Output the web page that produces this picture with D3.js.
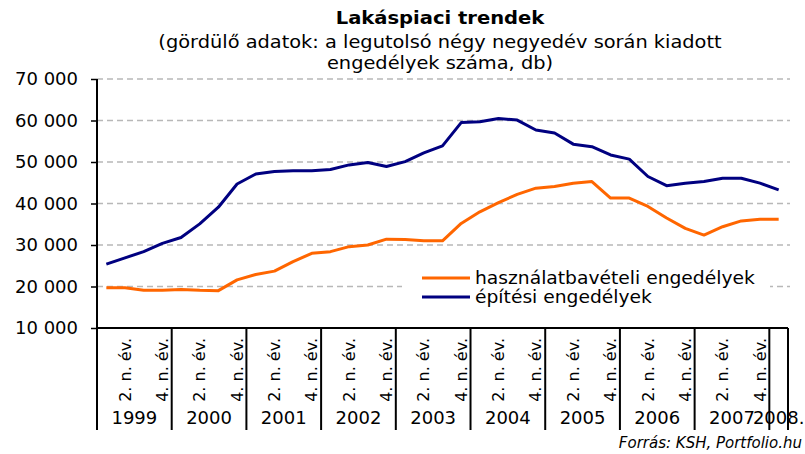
<!doctype html>
<html>
<head>
<meta charset="utf-8">
<title>Lakáspiaci trendek</title>
<script src="https://d3js.org/d3.v7.min.js"></script>
<style>
  body { margin: 0; background: #fff; }
  text { font-family: "DejaVu Sans", sans-serif; fill: #000; }
</style>
</head>
<body>
<script>
// data (quarterly, rolling four quarters)
var years = ["1999", "2000", "2001", "2002", "2003", "2004", "2005", "2006", "2007", "2008."];
var quartersPerYear = [4, 4, 4, 4, 4, 4, 4, 4, 4, 1];
var quarterLabels = ["", "2. n. év.", "", "4. n. év."];
var yTicks = [10000, 20000, 30000, 40000, 50000, 60000, 70000];

var hasznalatba = [19700, 19700, 19100, 19100, 19300, 19100, 19000, 21600,
  22900, 23700, 26000, 28000, 28400, 29600, 30000, 31400,
  31300, 31000, 31000, 35200, 38000, 40200, 42200, 43700,
  44100, 44900, 45300, 41300, 41300, 39300, 36500, 34000,
  32400, 34400, 35800, 36200, 36200];
var epitesi = [25400, 26900, 28400, 30400, 31800, 35100, 39100, 44700,
  47100, 47700, 47900, 47900, 48200, 49300, 49900, 48900,
  50100, 52200, 53900, 59500, 59700, 60500, 60100, 57700,
  57000, 54300, 53700, 51700, 50700, 46500, 44300, 44900,
  45300, 46100, 46100, 44900, 43300];

var seriesNames = ["használatbavételi engedélyek", "építési engedélyek"];
var seriesColors = ["#ff6600", "#000080"];

// categories built from years / quarters
var categories = [];
years.forEach(function(y, i) {
  for (var q = 0; q < quartersPerYear[i]; q++) categories.push({year: y, q: q, key: y + "-" + (q + 1)});
});

var width = 805, height = 454;
var plotLeft = 97, plotRight = 788, plotTop = 79, plotBottom = 328, labelBottom = 430;

var svg = d3.select("body").append("svg")
    .attr("width", width)
    .attr("height", height);

var x = d3.scaleBand()
    .domain(categories.map(function(d) { return d.key; }))
    .range([plotLeft, plotRight]);

var y = d3.scaleLinear()
    .domain([10000, 70000])
    .range([plotBottom, plotTop]);

// text a bit wider than the font, like the original picture
function wideText(g, tx, ty, str, size, anchor, sx) {
  return g.append("text")
      .attr("transform", "translate(" + tx + "," + ty + ") scale(" + sx + ",1)")
      .attr("text-anchor", anchor)
      .attr("font-size", size + "px")
      .text(str);
}

// title
wideText(svg, 440, 24, "Lakáspiaci trendek", 17, "middle", 1.15).attr("font-weight", "bold");
wideText(svg, 440, 48, "(gördülő adatok: a legutolsó négy negyedév során kiadott", 17, "middle", 1.14);
wideText(svg, 440, 69, "engedélyek száma, db)", 17, "middle", 1.14);

// gridlines
svg.append("g")
  .selectAll("line")
  .data(yTicks.slice(1))
  .enter().append("line")
    .attr("x1", plotLeft).attr("x2", plotRight + 2)
    .attr("y1", function(d) { return y(d); })
    .attr("y2", function(d) { return y(d); })
    .attr("stroke", "#b8b8b8")
    .attr("stroke-width", 1.5)
    .attr("stroke-dasharray", "6,4");

// y axis
var yAxis = d3.axisLeft(y)
    .tickValues(yTicks)
    .tickSize(6)
    .tickPadding(13)
    .tickFormat(function(d) { return d3.format(",")(d).replace(",", " "); });

var gy = svg.append("g")
    .attr("transform", "translate(" + plotLeft + ",0)")
    .call(yAxis);
gy.select(".domain").remove();
gy.selectAll("line").attr("stroke", "#000").attr("stroke-width", 1.5);
gy.selectAll("text")
    .style("font-family", "DejaVu Sans")
    .attr("font-size", "18px");

// axis frame
svg.append("line")
    .attr("x1", plotLeft).attr("x2", plotLeft)
    .attr("y1", plotTop).attr("y2", labelBottom)
    .attr("stroke", "#000").attr("stroke-width", 2);
svg.append("line")
    .attr("x1", plotLeft).attr("x2", plotRight)
    .attr("y1", plotBottom).attr("y2", plotBottom)
    .attr("stroke", "#000").attr("stroke-width", 2);

// year separators
var yearStarts = categories.filter(function(d) { return d.q === 0; });
svg.append("g")
  .selectAll("line")
  .data(yearStarts.slice(1).map(function(d) { return x(d.key); }).concat([plotRight]))
  .enter().append("line")
    .attr("x1", function(d) { return d; })
    .attr("x2", function(d) { return d; })
    .attr("y1", plotBottom).attr("y2", labelBottom)
    .attr("stroke", "#000").attr("stroke-width", 2);

// quarter labels
svg.append("g")
  .selectAll("text")
  .data(categories.filter(function(d) { return quarterLabels[d.q] !== "" && d.year !== "2008."; }))
  .enter().append("text")
    .attr("transform", function(d) {
      return "translate(" + (x(d.key) + x.bandwidth() / 2) + ",338) rotate(-90)";
    })
    .attr("dy", "0.35em")
    .attr("text-anchor", "end")
    .attr("font-size", "16px")
    .text(function(d) { return quarterLabels[d.q]; });

// year labels
svg.append("g")
  .selectAll("text")
  .data(yearStarts)
  .enter().append("text")
    .attr("x", function(d, i) {
      return x(d.key) + quartersPerYear[i] * x.bandwidth() / 2;
    })
    .attr("y", 424)
    .attr("text-anchor", "middle")
    .attr("font-size", "18px")
    .text(function(d) { return d.year; });

// lines
var line = d3.line()
    .x(function(d, i) { return x(categories[i].key) + x.bandwidth() / 2; })
    .y(function(d) { return y(d); });

[hasznalatba, epitesi].forEach(function(s, i) {
  svg.append("path")
      .datum(s)
      .attr("d", line)
      .attr("fill", "none")
      .attr("stroke", seriesColors[i])
      .attr("stroke-width", 3)
      .attr("stroke-linejoin", "round");
});

// legend
var legend = svg.append("g");
legend.append("rect")
    .attr("x", 402).attr("y", 266)
    .attr("width", 368).attr("height", 44)
    .attr("fill", "#fff");
seriesNames.forEach(function(name, i) {
  var ly = 278 + i * 19;
  legend.append("line")
      .attr("x1", 422).attr("x2", 470)
      .attr("y1", ly).attr("y2", ly)
      .attr("stroke", seriesColors[i])
      .attr("stroke-width", 3);
  wideText(legend, 475, ly + 6, name, 17, "start", 1.1);
});

// source
svg.append("text")
    .attr("x", 802).attr("y", 448)
    .attr("text-anchor", "end")
    .attr("font-size", "15px")
    .attr("font-style", "italic")
    .text("Forrás: KSH, Portfolio.hu");
</script>
</body>
</html>
